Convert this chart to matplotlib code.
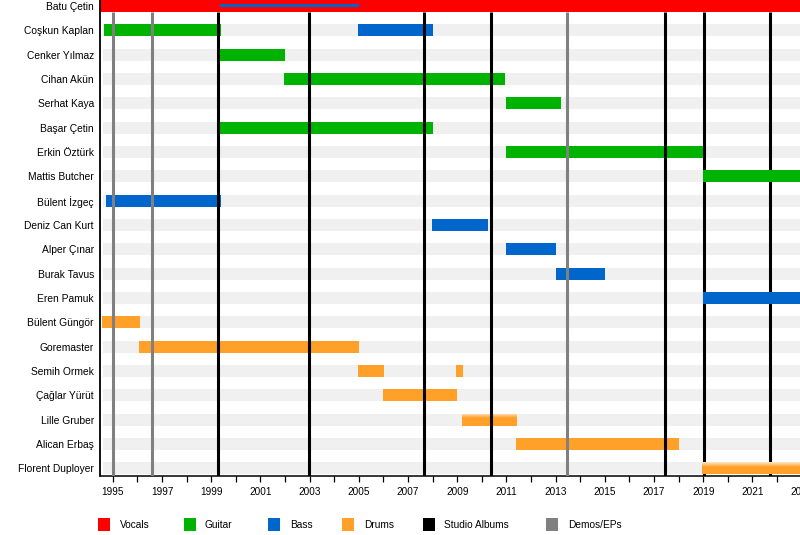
import matplotlib
matplotlib.use("Agg")
import matplotlib.pyplot as plt
import numpy as np
from matplotlib.patches import Rectangle
from matplotlib.ticker import FixedLocator

plt.rcParams['font.family'] = ['Liberation Sans', 'DejaVu Sans']

# ---------------- data ----------------
members = ["Batu Çetin", "Coşkun Kaplan", "Cenker Yılmaz", "Cihan Akün", "Serhat Kaya",
           "Başar Çetin", "Erkin Öztürk", "Mattis Butcher", "Bülent İzgeç", "Deniz Can Kurt",
           "Alper Çınar", "Burak Tavus", "Eren Pamuk", "Bülent Güngör", "Goremaster",
           "Semih Ormek", "Çağlar Yürüt", "Lille Gruber", "Alican Erbaş", "Florent Duployer"]

END = 2025.0
bar_member = ["Batu Çetin", "Coşkun Kaplan", "Coşkun Kaplan", "Cenker Yılmaz", "Cihan Akün",
              "Serhat Kaya", "Başar Çetin", "Erkin Öztürk", "Mattis Butcher", "Bülent İzgeç",
              "Deniz Can Kurt", "Alper Çınar", "Burak Tavus", "Eren Pamuk", "Bülent Güngör",
              "Goremaster", "Semih Ormek", "Semih Ormek", "Çağlar Yürüt", "Lille Gruber",
              "Alican Erbaş", "Florent Duployer"]
bar_start = [1994.5, 1994.65, 2004.98, 1999.36, 2001.96,
             2011.0, 1999.36, 2011.0, 2019.0, 1994.73,
             2007.98, 2011.0, 2013.0, 2019.0, 1994.58,
             1996.08, 2004.98, 2008.96, 2006.0, 2009.19,
             2011.39, 2018.97]
bar_end = [END, 1999.39, 2008.02, 2002.0, 2010.93,
           2013.2, 2008.0, 2018.98, END, 1999.4,
           2010.26, 2013.03, 2015.0, END, 1996.1,
           2005.0, 2006.04, 2009.23, 2008.98, 2011.42,
           2018.0, END]
bar_role = ["Vocals", "Guitar", "Bass", "Guitar", "Guitar",
            "Guitar", "Guitar", "Guitar", "Guitar", "Bass",
            "Bass", "Bass", "Bass", "Bass", "Drums",
            "Drums", "Drums", "Drums", "Drums", "Drums",
            "Drums", "Drums"]
# bars drawn with a soft (faded) top edge
faded_member = ["Lille Gruber", "Florent Duployer"]

# thin secondary bar
thin_member = ["Batu Çetin"]
thin_start = [1999.36]
thin_end = [2005.0]
thin_role = ["Bass"]

album_years = [1999.29, 2002.99, 2007.67, 2010.38, 2017.43, 2019.02, 2021.72]
demo_years = [1995.0, 1996.59, 2013.47]

roles = ["Vocals", "Guitar", "Bass", "Drums", "Studio Albums", "Demos/EPs"]
role_colors = {"Vocals": "#ff0000", "Guitar": "#00b300", "Bass": "#0066cc",
               "Drums": "#ffa028", "Studio Albums": "#000000", "Demos/EPs": "#808080"}

year_ticks = list(range(1995, 2025, 2))
minor_ticks = list(range(1996, 2025, 2))

# ---------------- layout ----------------
W, H = 800, 535
fig = plt.figure(figsize=(W / 100, H / 100), dpi=100)
ax_left, ax_right, ax_bottom, ax_top = 100.5, 850.0, 475.5, 0.0
ax = fig.add_axes([ax_left / W, (H - ax_bottom) / H, (ax_right - ax_left) / W, (ax_bottom - ax_top) / H])

px_per_year = 24.6
row_px = 24.34
xmin = 1994.5
xmax = xmin + (ax_right - ax_left) / px_per_year
ymax_data = 19 + 7 / row_px
ymin_data = -6 / row_px

bar_h = 12 / row_px
idx = {m: i for i, m in enumerate(members)}

# background stripes
ax.barh(range(len(members)), xmax - 1994.6, left=1994.6, height=bar_h,
        color="#f0f0f0", zorder=1, linewidth=0)

# main bars
for m, s, e, r in zip(bar_member, bar_start, bar_end, bar_role):
    ax.barh(idx[m], e - s, left=s, height=bar_h, color=role_colors[r], zorder=2, linewidth=0)
    if m in faded_member:
        fade = 4.5 / row_px
        ytop = idx[m] - bar_h / 2
        grad = np.zeros((20, 1, 4))
        grad[..., :3] = 1.0
        grad[:, 0, 3] = np.linspace(0.75, 0.0, 20)
        ax.imshow(grad, extent=(s, e, ytop + fade, ytop), aspect="auto",
                  interpolation="bilinear", zorder=2.2, origin="upper")

# thin bars
for m, s, e, r in zip(thin_member, thin_start, thin_end, thin_role):
    ax.barh(idx[m] - 0.014, e - s, left=s, height=3.5 / row_px, color=role_colors[r],
            zorder=5, linewidth=0)

# vertical event lines (start below the first row's bar)
line_top = bar_h / 2
for x in album_years:
    z = 1.5 if x > 2019 else 3
    ax.vlines(x, line_top, ymax_data, color=role_colors["Studio Albums"], linewidth=2.2, zorder=z)
for x in demo_years:
    ax.vlines(x, line_top, ymax_data, color=role_colors["Demos/EPs"], linewidth=2.2, zorder=3)

ax.set_xlim(xmin, xmax)
ax.set_ylim(ymax_data, ymin_data)

# axes styling
for s in ["top", "right"]:
    ax.spines[s].set_visible(False)
ax.spines["left"].set_linewidth(1.3)
ax.spines["bottom"].set_linewidth(1.1)
ax.xaxis.set_major_locator(FixedLocator(year_ticks))
ax.xaxis.set_minor_locator(FixedLocator(minor_ticks))
ax.set_xticklabels([str(y) for y in year_ticks])
ax.tick_params(axis="x", which="both", direction="out", length=4, width=0.9, labelsize=7.2, pad=4)
ax.set_yticks(range(len(members)))
ax.set_yticklabels(members)
ax.tick_params(axis="y", length=0, pad=4.7, labelsize=7.4)

# legend
box_x = [98, 184, 268, 342, 423, 546]
text_x = [120, 205, 290, 364, 444, 568]
for r, bx, tx in zip(roles, box_x, text_x):
    fig.patches.append(Rectangle((bx / W, 1 - 531 / H), 12 / W, 13 / H,
                                 transform=fig.transFigure, color=role_colors[r], linewidth=0))
    fig.text(tx / W, 1 - 524.5 / H, r, fontsize=7.3, va="center", ha="left")

fig.savefig("out.png", dpi=100)
